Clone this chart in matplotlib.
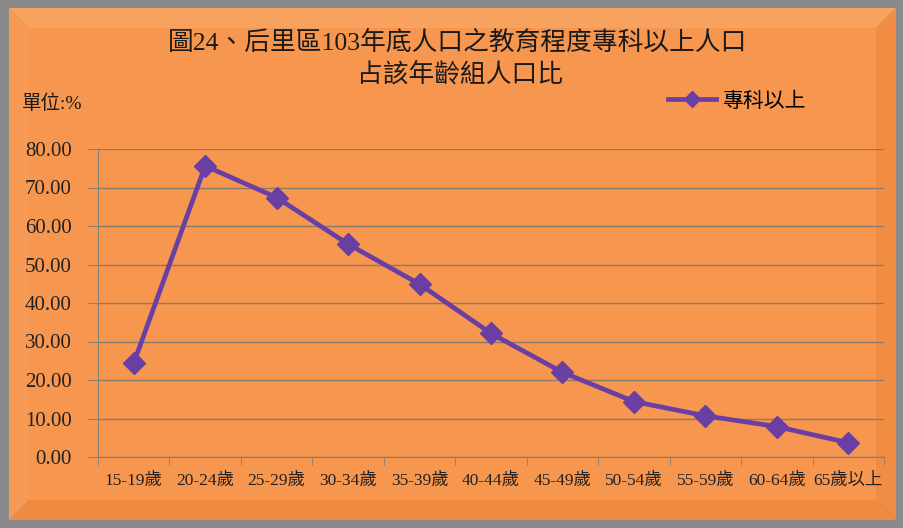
import matplotlib
matplotlib.use("Agg")
import matplotlib.pyplot as plt
from matplotlib.patches import Rectangle, Polygon

plt.rcParams['font.family'] = ['Liberation Serif', 'Noto Sans CJK TC', 'DejaVu Sans']

categories = ["15-19歲", "20-24歲", "25-29歲", "30-34歲", "35-39歲", "40-44歲",
              "45-49歲", "50-54歲", "55-59歲", "60-64歲", "65歲以上"]
values = [24.4, 75.6, 67.4, 55.3, 44.9, 32.1, 22.0, 14.4, 10.7, 7.9, 3.7]
yticks = [0, 10, 20, 30, 40, 50, 60, 70, 80]
series_name = "專科以上"
title_lines = ["圖24、后里區103年底人口之教育程度專科以上人口", "占該年齡組人口比"]
unit_label = "單位:%"

W, H = 904, 528
fig = plt.figure(figsize=(W / 100, H / 100), dpi=100)
fig.patch.set_facecolor("#8a8a8c")

orange = "#F7964F"
fx0, fy0, fx1, fy1 = 9 / W, 8 / H, 896 / W, 520 / H
b = 20
ix0, iy0, ix1, iy1 = (9 + b) / W, (8 + b) / H, (896 - b) / W, (520 - b) / H
Z = -5
fig.patches.append(Polygon([(fx0, fy1), (fx1, fy1), (ix1, iy1), (ix0, iy1)], closed=True,
                           transform=fig.transFigure, facecolor="#F8A260", edgecolor="none", zorder=Z))
fig.patches.append(Polygon([(fx0, fy0), (fx0, fy1), (ix0, iy1), (ix0, iy0)], closed=True,
                           transform=fig.transFigure, facecolor="#F79A55", edgecolor="none", zorder=Z))
fig.patches.append(Polygon([(fx1, fy0), (fx1, fy1), (ix1, iy1), (ix1, iy0)], closed=True,
                           transform=fig.transFigure, facecolor="#F08D42", edgecolor="none", zorder=Z))
fig.patches.append(Polygon([(fx0, fy0), (fx1, fy0), (ix1, iy0), (ix0, iy0)], closed=True,
                           transform=fig.transFigure, facecolor="#EF8A3F", edgecolor="none", zorder=Z))
fig.patches.append(Rectangle((ix0, iy0), ix1 - ix0, iy1 - iy0, transform=fig.transFigure,
                             facecolor=orange, edgecolor="none", zorder=Z))

ax = fig.add_axes([98 / W, 1 - 457 / H, (884 - 98) / W, (457 - 149) / H])
ax.set_facecolor("none")

x = list(range(len(categories)))
line, = ax.plot(x, values, color="#6A3FA3", lw=3.4, marker="D", markersize=11.5,
                markerfacecolor="#6A3FA3", markeredgecolor="#6A3FA3", zorder=3,
                label=series_name)

ax.set_xlim(-0.5, len(categories) - 0.5)
ax.set_ylim(0, 80)
ax.set_yticks(yticks)
ax.set_yticklabels([f"{v:.2f}" for v in yticks], fontsize=15, color="#222222")
ax.set_xticks(x)
ax.set_xticklabels(categories, fontsize=12.5, color="#222222")
ax.set_xticks([i - 0.5 for i in range(len(categories) + 1)], minor=True)
ax.tick_params(axis="x", which="major", length=0, pad=11)
ax.tick_params(axis="x", which="minor", length=6, color="#8a7f74", direction="out")
ax.tick_params(axis="y", length=7, color="#8a7f74", pad=12)

ax.grid(axis="y", color="#8a7a6c", lw=1.0)
ax.set_axisbelow(True)
for s in ["top", "right"]:
    ax.spines[s].set_visible(False)
ax.spines["left"].set_color("#8a7f74")
ax.spines["bottom"].set_color("#8a7f74")

fig.text(458 / W, 1 - 42 / H, title_lines[0], ha="center", va="center",
         fontsize=18.5, color="#1a1a1a")
fig.text(460 / W, 1 - 74 / H, title_lines[1], ha="center", va="center",
         fontsize=18.5, color="#1a1a1a")
fig.text(22 / W, 1 - 104 / H, unit_label, ha="left", va="center", fontsize=14, color="#1a1a1a")

leg = fig.legend(handles=[line], loc="center left", bbox_to_anchor=(668 / W, 1 - 102 / H),
                 frameon=False, fontsize=15, handlelength=2.3, handletextpad=0.3,
                 markerscale=0.7, borderpad=0, borderaxespad=0)

fig.savefig("out.png", dpi=100, facecolor=fig.get_facecolor())
